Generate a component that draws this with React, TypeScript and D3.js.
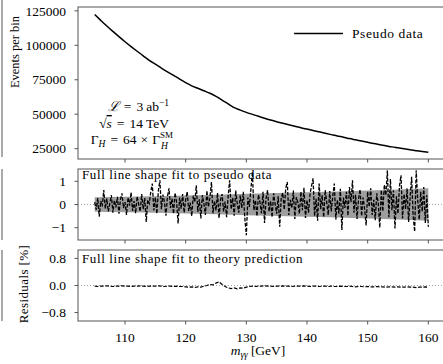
import * as d3 from 'd3'

// m_gg grid of the top panel (1 GeV)
const massTop = d3.range(105, 161, 1)
const eventsPerBin = [
  122300, 118100, 114000, 110100, 106300, 102600, 99100, 95700, 92400, 89100,
  86300, 83500, 80800, 78200, 75500, 72900, 70600, 68800, 67000, 65200,
  62900, 60300, 57500, 54800, 53000, 51350, 49900, 48500, 47100, 45800,
  44600, 43500, 42400, 41300, 40200, 39200, 38200, 37200, 36200, 35200,
  34200, 33300, 32300, 31400, 30500, 29600, 28700, 27900, 27100, 26300,
  25600, 24900, 24200, 23500, 22900, 22350,
]

// residuals of the fit to pseudo data [%], 0.25 GeV bins from 105
const pseudoStep = 0.25
const residPseudo = [
  0.10, -0.22, 0.28, -0.52, 0.15, -0.08, 0.62, -0.18, 0.25, -0.30, 0.05, 0.40,
  -0.35, 0.18, -0.12, 0.33, -0.40, 0.22, 0.48, -0.15, 0.10, -0.45, 0.30, -0.05,
  0.52, -0.28, 0.15, -0.38, 0.35, 0.02, -0.30, 0.45, -0.20, 0.28, -0.75, 0.20,
  0.05, 0.55, 0.90, -0.25, 0.30, -0.40, 0.60, 1.04, -0.20, 0.42, 0.10, -0.48,
  0.35, 0.70, -0.15, 0.25, -0.40, 0.50, 0.12, -0.82, 0.30, -0.18, 0.45, -0.35,
  0.20, 0.55, -0.28, 0.08, -0.50, 0.38, 0.10, 0.83, -0.32, 0.22, -0.60, 0.40,
  0.05, -0.45, 0.60, -0.10, 0.30, 0.97, -0.38, 0.15, -0.25, 0.50, -0.59, 0.20,
  0.45, -0.30, 0.12, -0.55, 0.35, 1.04, -0.20, 0.28, -0.48, 0.60, 0.05, -0.35,
  0.40, -0.15, 0.55, -0.60, -1.32, 0.30, -0.10, 0.65, 1.40, -0.25, 0.18, -0.50,
  0.42, 0.10, -0.38, 0.55, -0.80, 0.25, 0.62, -0.30, 0.15, -0.55, 0.48, 0.02,
  -0.40, 0.35, -0.96, 0.28, 0.50, -0.22, 0.70, 0.97, -0.45, 0.20, -0.15, 0.60,
  -0.62, 0.32, 0.08, -0.40, 0.55, -0.25, 0.72, -0.58, 0.18, -0.35, 0.45, 0.80,
  1.13, -0.50, 0.25, -0.70, 0.90, -0.20, 0.40, -0.55, 0.62, 0.10, -0.45, 0.58,
  -0.30, 0.35, 0.90, -0.65, 0.20, -0.40, 0.68, -1.10, 0.30, -0.15, 0.55, -0.48,
  0.75, 0.10, 1.04, -0.35, 0.42, -0.62, 0.25, 0.65, -0.50, 0.30, -0.20, -0.90,
  0.55, -0.10, 0.70, -0.45, 0.20, -0.68, 0.48, 0.05, -1.00, 0.62, -0.30, 0.85,
  0.40, 1.47, -0.55, 1.10, -0.25, 0.60, -1.03, 0.35, -0.40, 0.80, 1.26, -0.60,
  0.45, -0.20, 0.70, -0.75, 0.30, 1.19, -0.50, -1.17, 1.47, 0.20, -0.65, 0.55,
  -0.30, 0.75, -0.80, 0.40, -0.96,
]

// statistical band (+/- half width, %)
const bandMass = [105, 110, 115, 120, 125, 130, 135, 140, 145, 150, 155, 160]
const bandHalf = [0.31, 0.335, 0.36, 0.39, 0.42, 0.46, 0.495, 0.53, 0.565, 0.605, 0.65, 0.70]

// residuals of the fit to theory prediction [%], 0.5 GeV bins from 105
const theoryStep = 0.5
const residTheory = [
  -0.02, -0.03, -0.02, -0.02, -0.01, -0.02, -0.03, -0.02, -0.02, -0.01,
  -0.02, -0.02, -0.03, -0.02, -0.02, -0.01, -0.02, -0.03, -0.02, -0.02,
  -0.02, -0.01, -0.02, -0.03, -0.02, -0.02, -0.03, -0.02, -0.03,
  -0.03, -0.04, -0.05, -0.04, -0.06, -0.04, -0.05, -0.02, 0.00, 0.03,
  0.02, 0.07, 0.11, 0.03, -0.03, -0.07, -0.09, -0.07, -0.10, -0.07,
  -0.08, -0.05, -0.03,
  -0.02, -0.03, -0.02, -0.02, -0.01, -0.02, -0.02, -0.03, -0.02, -0.02,
  -0.01, -0.02, -0.02, -0.03, -0.02, -0.02, -0.02, -0.01, -0.02, -0.03,
  -0.02, -0.02, -0.03, -0.02, -0.02, -0.03, -0.02, -0.03, -0.03, -0.02,
  -0.03, -0.03, -0.02, -0.03, -0.04, -0.03, -0.03, -0.04, -0.03, -0.04,
  -0.04, -0.03, -0.04, -0.04, -0.05, -0.04, -0.04, -0.05, -0.04, -0.05,
  -0.05, -0.04, -0.05, -0.05, -0.06, -0.05, -0.05, -0.04, -0.05,
]

const xTicks = [110, 120, 130, 140, 150, 160]
const topTicks = [25000, 50000, 75000, 100000, 125000]
const midTicks = [-1, 0, 1]
const botTicks = [-0.8, 0, 0.8]

const FONT = "'Liberation Serif', 'DejaVu Serif', serif"
const AX = '#555'

export default function App() {
  const W = 443
  const H = 364
  const left = 78
  const x = d3.scaleLinear().domain([102.25, 162.75]).range([left, 445])

  const top = { y0: 7, y1: 159 }
  const mid = { y0: 169, y1: 240 }
  const bot = { y0: 250, y1: 321 }

  const yTop = d3.scaleLinear().domain([17500, 127800]).range([top.y1, top.y0])
  const yMid = d3.scaleLinear().domain([-1.53, 1.53]).range([mid.y1, mid.y0])
  const yBot = d3.scaleLinear().domain([-1.05, 1.05]).range([bot.y1, bot.y0])

  const topLine = d3.line<number>()
    .x((_, i) => x(massTop[i]))
    .y((d) => yTop(d))
    .curve(d3.curveMonotoneX)(eventsPerBin)

  const pseudoLine = d3.line<number>()
    .x((_, i) => x(105 + i * pseudoStep))
    .y((d) => yMid(d))(residPseudo)

  const band = d3.area<number>()
    .x((_, i) => x(bandMass[i]))
    .y0((d) => yMid(-d))
    .y1((d) => yMid(d))(bandHalf)

  const theoryLine = d3.line<number>()
    .x((_, i) => x(105 + i * theoryStep))
    .y((d) => yBot(d))(residTheory)

  const fmtMinus = (s: string) => s.replace('-', '\u2212')

  const frame = (p: { y0: number; y1: number }) => (
    <g>
      <rect x={left} y={p.y0} width={500} height={p.y1 - p.y0} fill="none" stroke={AX} strokeWidth={1} />
      {xTicks.map((t) => (
        <line key={t} x1={x(t)} x2={x(t)} y1={p.y1} y2={p.y1 + 3.5} stroke={AX} strokeWidth={1} />
      ))}
    </g>
  )

  const yAxis = (ticks: number[], scale: d3.ScaleLinear<number, number>, fmt: (v: number) => string) =>
    ticks.map((t) => (
      <g key={t}>
        <line x1={left - 3.5} x2={left} y1={scale(t)} y2={scale(t)} stroke={AX} strokeWidth={1} />
        <text x={left - 12} y={scale(t)} dy="0.35em" textAnchor="end" fontSize={13.5}>
          {fmtMinus(fmt(t))}
        </text>
      </g>
    ))

  return (
    <svg width={W} height={H} style={{ position: 'absolute', left: 0, top: 0, background: '#fff' }}
      fontFamily={FONT} fill="#000">
      {/* edge of neighbouring figure */}
      <line x1={2} x2={2} y1={0} y2={157} stroke={AX} />
      <line x1={2} x2={2} y1={169} y2={240} stroke={AX} />
      <line x1={2} x2={2} y1={250} y2={321} stroke={AX} />

      {/* top panel */}
      {frame(top)}
      <path d={topLine ?? ''} fill="none" stroke="#000" strokeWidth={1.5} />
      {yAxis(topTicks, yTop, (v) => String(v))}
      <text transform={`translate(19,52) rotate(-90)`} textAnchor="middle" fontSize={12.5}>Events per bin</text>
      <line x1={294} x2={343} y1={33.5} y2={33.5} stroke="#000" strokeWidth={1.5} />
      <text x={352} y={37.5} fontSize={13.5} letterSpacing={0.6}>Pseudo data</text>

      <text x={169} y={111} textAnchor="end" fontSize={13.5}>
        <tspan fontStyle="italic">ℒ</tspan>
        <tspan dx={5}>=</tspan>
        <tspan dx={5}>3</tspan>
        <tspan dx={3}>ab</tspan>
        <tspan dy={-5} fontSize={9.5}>−1</tspan>
      </text>
      <text x={169} y={128} textAnchor="end" fontSize={13.5}>
        <tspan>√</tspan>
        <tspan fontStyle="italic" style={{ textDecoration: 'overline' }}>s</tspan>
        <tspan dx={5}>=</tspan>
        <tspan dx={5}>14</tspan>
        <tspan dx={3}>TeV</tspan>
      </text>
      <text x={160} y={143.5} textAnchor="end" fontSize={13.5}>
        <tspan>Γ</tspan>
        <tspan dy={3} fontSize={9.5} fontStyle="italic">H</tspan>
        <tspan dy={-3} dx={5}>=</tspan>
        <tspan dx={5}>64</tspan>
        <tspan dx={4}>×</tspan>
        <tspan dx={4}>Γ</tspan>
      </text>
      <text x={160} y={137.5} fontSize={9}>SM</text>
      <text x={161} y={148.5} fontSize={9.5} fontStyle="italic">H</text>

      {/* middle panel */}
      {frame(mid)}
      <line x1={left} x2={W} y1={yMid(0)} y2={yMid(0)} stroke="#888" strokeWidth={0.8} strokeDasharray="1 2" />
      <path d={band ?? ''} fill="#9e9e9e" />
      <path d={pseudoLine ?? ''} fill="none" stroke="#000" strokeWidth={1.3} strokeDasharray="3.7 1.6" />
      {yAxis(midTicks, yMid, (v) => String(v))}
      <text x={82} y={178.5} fontSize={13} letterSpacing={0.6}>Full line shape fit to pseudo data</text>

      {/* bottom panel */}
      {frame(bot)}
      <line x1={left} x2={W} y1={yBot(0)} y2={yBot(0)} stroke="#888" strokeWidth={0.8} strokeDasharray="1 2" />
      <path d={theoryLine ?? ''} fill="none" stroke="#000" strokeWidth={1.2} strokeDasharray="3.7 1.6" />
      {yAxis(botTicks, yBot, (v) => v.toFixed(1))}
      <text x={82} y={263} fontSize={13} letterSpacing={0.6}>Full line shape fit to theory prediction</text>
      <text transform={`translate(28,284) rotate(-90)`} textAnchor="middle" fontSize={13} letterSpacing={0.4}>Residuals [%]</text>

      {xTicks.map((t) => (
        <text key={t} x={x(t)} y={342} textAnchor="middle" fontSize={13.5}>{t}</text>
      ))}
      <text x={258} y={355} textAnchor="middle" fontSize={13.5}>
        <tspan fontStyle="italic">m</tspan>
        <tspan dy={3} fontSize={9.5} fontStyle="italic">γγ</tspan>
        <tspan dy={-3} dx={3}>[GeV]</tspan>
      </text>
    </svg>
  )
}
